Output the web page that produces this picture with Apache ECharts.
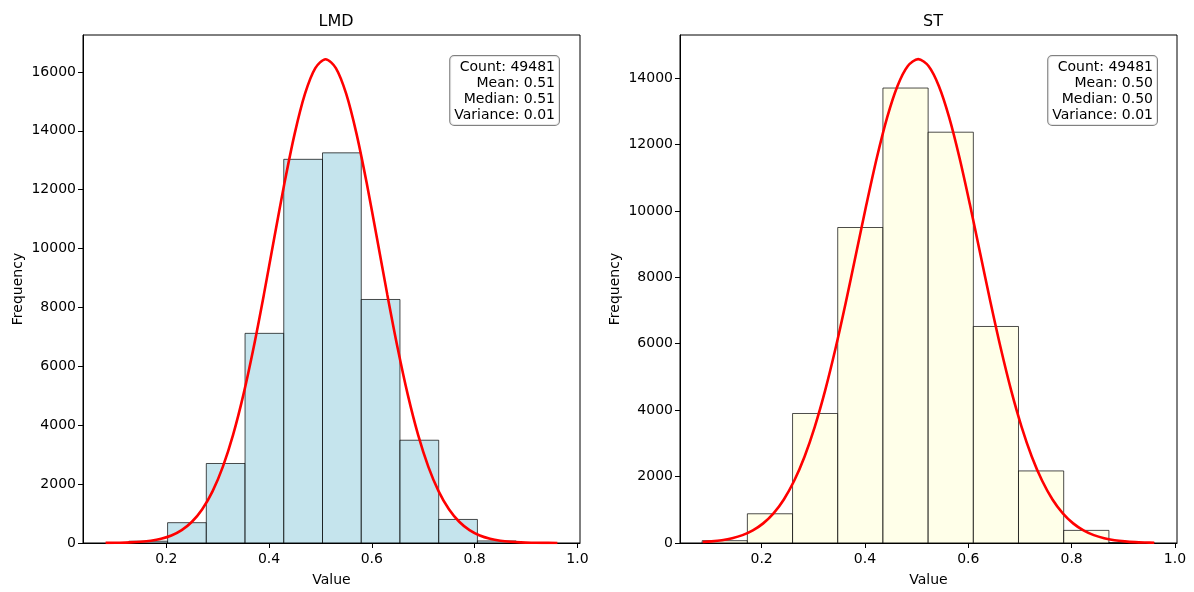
<!DOCTYPE html>
<html>
<head>
<meta charset="utf-8">
<title>LMD / ST</title>
<script src="https://cdn.jsdelivr.net/npm/echarts@6/dist/echarts.min.js"></script>
<style>
    html, body { margin: 0; padding: 0; background: #fff; }
    #chart { width: 1194px; height: 592px; }
</style>
</head>
<body>
<div id="chart"></div>
<script>
    // LMD histogram: bin edges + counts
    var lmdEdges = [0.1272, 0.2026, 0.2779, 0.3533, 0.4286, 0.5040, 0.5794, 0.6547, 0.7301, 0.8054, 0.8808];
    var lmdCounts = [60, 690, 2700, 7120, 13030, 13250, 8270, 3490, 800, 70];
    // LMD red curve
    var lmdCurveX = [0.082, 0.09, 0.11, 0.13, 0.15, 0.17, 0.19, 0.21, 0.23, 0.25, 0.27, 0.29, 0.31, 0.33, 0.35, 0.37,
        0.39, 0.41, 0.43, 0.45, 0.47, 0.49, 0.51, 0.53, 0.55, 0.57, 0.59, 0.61, 0.63, 0.65, 0.67, 0.69, 0.71,
        0.73, 0.75, 0.77, 0.79, 0.81, 0.83, 0.85, 0.87, 0.89, 0.91, 0.93, 0.961];
    var lmdCurveY = [3, 5, 10, 21, 41, 78, 145, 256, 438, 722, 1146, 1753, 2586, 3674, 5031, 6640,
        8443, 10348, 12222, 13911, 15259, 16129, 16430, 16129, 15259, 13911, 12222, 10348, 8443, 6640, 5031, 3674, 2586,
        1753, 1146, 722, 438, 256, 145, 78, 41, 21, 10, 5, 1];
    var lmdStats = ['Count: 49481', 'Mean: 0.51', 'Median: 0.51', 'Variance: 0.01'];

    // ST histogram
    var stEdges = [0.0849, 0.1724, 0.2599, 0.3473, 0.4348, 0.5223, 0.6098, 0.6972, 0.7847, 0.8722, 0.9597];
    var stCounts = [70, 880, 3900, 9500, 13700, 12370, 6520, 2170, 380, 12];
    var stCurveX = [0.086, 0.103, 0.123, 0.143, 0.163, 0.183, 0.203, 0.223, 0.243, 0.263, 0.283, 0.303, 0.323, 0.343,
        0.363, 0.383, 0.403, 0.423, 0.443, 0.463, 0.483, 0.503, 0.523, 0.543, 0.563, 0.583, 0.603, 0.623, 0.643,
        0.663, 0.683, 0.703, 0.723, 0.743, 0.763, 0.783, 0.803, 0.823, 0.843, 0.863, 0.883, 0.903, 0.923, 0.943, 0.960];
    var stCurveY = [30, 49, 85, 144, 237, 380, 591, 893, 1312, 1874, 2599, 3506, 4595, 5855,
        7250, 8725, 10205, 11601, 12817, 13763, 14364, 14570, 14364, 13763, 12817, 11601, 10205, 8725, 7250,
        5855, 4595, 3506, 2599, 1874, 1312, 893, 591, 380, 237, 144, 85, 49, 27, 15, 8];
    var stStats = ['Count: 49481', 'Mean: 0.50', 'Median: 0.50', 'Variance: 0.01'];

    var xTicks = [0.2, 0.4, 0.6, 0.8, 1.0];
    var lmdYTicks = [0, 2000, 4000, 6000, 8000, 10000, 12000, 14000, 16000];
    var stYTicks = [0, 2000, 4000, 6000, 8000, 10000, 12000, 14000];

    var font = 'DejaVu Sans';

    function bins(edges, counts) {
        var d = [];
        for (var i = 0; i < counts.length; i++) {
            d.push([edges[i], edges[i + 1], counts[i]]);
        }
        return d;
    }
    function pairs(x, y) {
        var d = [];
        for (var i = 0; i < x.length; i++) d.push([x[i], y[i]]);
        return d;
    }
    function histItem(fill) {
        return function (params, api) {
            var p0 = api.coord([api.value(0), api.value(2)]);
            var p1 = api.coord([api.value(1), 0]);
            return {
                type: 'rect',
                shape: {x: p0[0], y: p0[1], width: p1[0] - p0[0], height: p1[1] - p0[1]},
                style: {fill: fill, stroke: 'rgba(0,0,0,0.7)', lineWidth: 1}
            };
        };
    }
    function xAxis(idx, min, max) {
        return {
            type: 'value', gridIndex: idx, min: min, max: max,
            name: 'Value', nameLocation: 'middle', nameGap: 30,
            nameTextStyle: {color: '#000', fontSize: 14, fontFamily: font},
            axisLine: {show: true, lineStyle: {color: '#000', width: 1}},
            axisTick: {show: true, length: 5, lineStyle: {color: '#000'}, customValues: xTicks},
            axisLabel: {color: '#000', fontSize: 14, fontFamily: font, margin: 9, customValues: xTicks,
                formatter: function (v) { return v.toFixed(1); }},
            splitLine: {show: false}
        };
    }
    function yAxis(idx, max, ticks) {
        return {
            type: 'value', gridIndex: idx, min: 0, max: max,
            name: 'Frequency', nameLocation: 'middle', nameGap: 58, nameRotate: 90,
            nameTextStyle: {color: '#000', fontSize: 14, fontFamily: font},
            axisLine: {show: true, lineStyle: {color: '#000', width: 1}},
            axisTick: {show: true, length: 5, lineStyle: {color: '#000'}, customValues: ticks},
            axisLabel: {color: '#000', fontSize: 14, fontFamily: font, margin: 7, customValues: ticks,
                formatter: function (v) { return String(v); }},
            splitLine: {show: false}
        };
    }
    function statBox(x, lines) {
        return {
            type: 'text', z: 100,
            style: {
                x: x, y: 56, text: lines.join('\n'), align: 'right', verticalAlign: 'top',
                font: '14px "DejaVu Sans"', fill: '#000', lineHeight: 16,
                backgroundColor: 'rgba(255,255,255,0.8)', borderColor: '#808080', borderWidth: 1,
                borderRadius: 4, padding: [3, 4, 2, 4]
            }
        };
    }

    var chart = echarts.init(document.getElementById('chart'));
    chart.setOption({
        animation: false,
        backgroundColor: '#fff',
        title: [
            {text: 'LMD', left: 331, top: 9, textAlign: 'center',
                textStyle: {fontSize: 16, fontWeight: 'normal', color: '#000', fontFamily: font}},
            {text: 'ST', left: 928, top: 9, textAlign: 'center',
                textStyle: {fontSize: 16, fontWeight: 'normal', color: '#000', fontFamily: font}}
        ],
        grid: [
            {left: 83, top: 35, width: 497, height: 510, show: true, borderColor: '#000', borderWidth: 1, containLabel: false},
            {left: 680, top: 35, width: 497, height: 510, show: true, borderColor: '#000', borderWidth: 1, containLabel: false}
        ],
        xAxis: [xAxis(0, 0.038, 1.005), xAxis(1, 0.042, 1.004)],
        yAxis: [yAxis(0, 17252, lmdYTicks), yAxis(1, 15297, stYTicks)],
        graphic: [statBox(559, lmdStats), statBox(1157, stStats)],
        series: [
            {type: 'custom', xAxisIndex: 0, yAxisIndex: 0, renderItem: histItem('rgba(173,216,230,0.7)'),
                encode: {x: [0, 1], y: 2}, data: bins(lmdEdges, lmdCounts), clip: true},
            {type: 'line', xAxisIndex: 0, yAxisIndex: 0, data: pairs(lmdCurveX, lmdCurveY), smooth: 0.3,
                showSymbol: false, lineStyle: {color: '#ff0000', width: 2.6}, itemStyle: {color: '#ff0000'}, z: 5},
            {type: 'custom', xAxisIndex: 1, yAxisIndex: 1, renderItem: histItem('rgba(255,255,224,0.7)'),
                encode: {x: [0, 1], y: 2}, data: bins(stEdges, stCounts), clip: true},
            {type: 'line', xAxisIndex: 1, yAxisIndex: 1, data: pairs(stCurveX, stCurveY), smooth: 0.3,
                showSymbol: false, lineStyle: {color: '#ff0000', width: 2.6}, itemStyle: {color: '#ff0000'}, z: 5}
        ]
    });
</script>
</body>
</html>
